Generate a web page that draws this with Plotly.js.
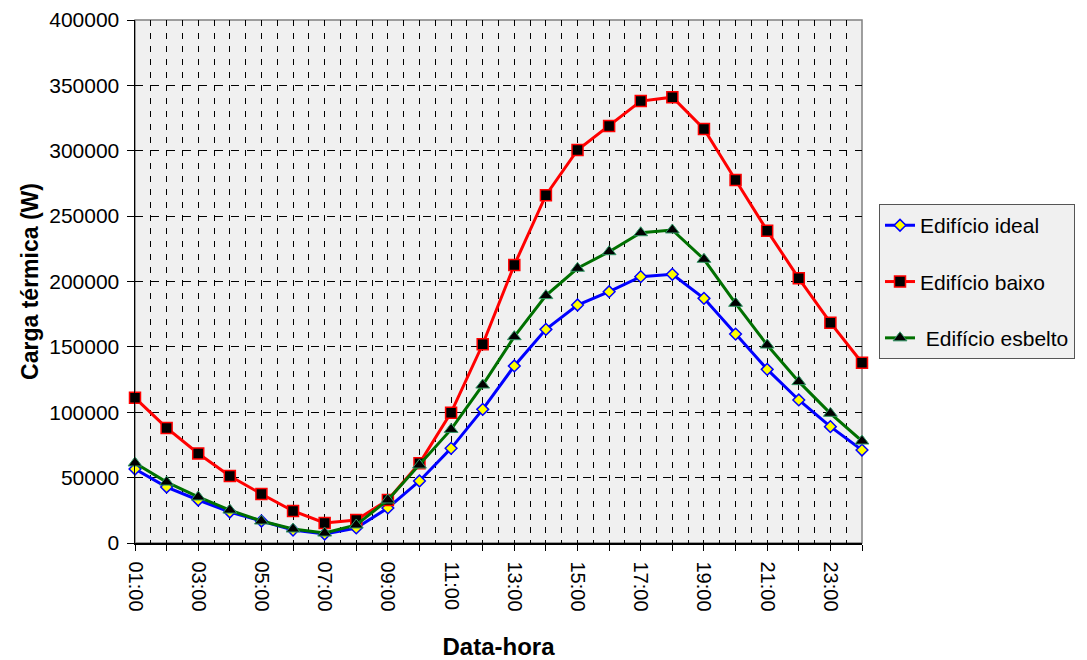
<!DOCTYPE html>
<html>
<head>
<meta charset="utf-8">
<script src="https://cdn.plot.ly/plotly-3.0.1.min.js"></script>
<style>html,body{margin:0;padding:0;background:#fff;}#chart{width:1087px;height:660px;}</style>
</head>
<body>
<div id="chart"></div>
<script>
const hours = [1,2,3,4,5,6,7,8,9,10,11,12,13,14,15,16,17,18,19,20,21,22,23,24];
const hourLabels = ['01:00','02:00','03:00','04:00','05:00','06:00','07:00','08:00','09:00','10:00','11:00','12:00',
                    '13:00','14:00','15:00','16:00','17:00','18:00','19:00','20:00','21:00','22:00','23:00','24:00'];
const shownLabels = ['01:00','03:00','05:00','07:00','09:00','11:00','13:00','15:00','17:00','19:00','21:00','23:00'];

const seriesNames = ['Edifício ideal', 'Edifício baixo', ' Edifício esbelto'];
const ideal   = [56600, 42800, 32900, 23700, 16800, 9900, 6900, 11500, 26800, 47400, 72400, 102200,
                 135400, 163400, 182000, 192200, 203700, 205500, 187100, 159800, 132800, 109400, 89000, 71100];
const baixo   = [111000, 88000, 68500, 51200, 37500, 24500, 15300, 17600, 32900, 61000, 99700, 152000,
                 212600, 266000, 300600, 319000, 338000, 341000, 316600, 277600, 238900, 202400, 168500, 137900];
const esbelto = [61200, 46600, 35200, 25200, 16800, 10700, 7600, 13800, 32900, 59600, 86900, 120800,
                 157800, 189200, 210100, 222800, 237300, 239400, 217000, 183300, 151400, 123400, 99200, 78000];

const tickText = hourLabels.map(l => shownLabels.includes(l) ? l : '');

const traces = [
  {x: hours, y: ideal, name: seriesNames[0], type: 'scatter', mode: 'lines+markers', legendgroup: 'a', cliponaxis: false,
   line: {color: '#0000ff', width: 3},
   marker: {symbol: 'diamond', size: 9, color: '#ffff00', line: {color: '#0000ff', width: 1.5}}},
  {x: hours, y: baixo, name: seriesNames[1], type: 'scatter', mode: 'lines+markers', legendgroup: 'b', cliponaxis: false,
   line: {color: '#ff0000', width: 3},
   marker: {symbol: 'square', size: 11, color: '#000000', line: {color: '#ff0000', width: 1.5}}},
  {x: hours, y: esbelto, name: seriesNames[2], type: 'scatter', mode: 'lines+markers', legendgroup: 'c', cliponaxis: false,
   line: {color: '#007000', width: 3},
   marker: {symbol: 'triangle-up', size: 12, color: '#000000', line: {color: '#339966', width: 1}}}
];

const layout = {
  width: 1087, height: 660,
  margin: {l: 135, r: 225, t: 20, b: 117},
  paper_bgcolor: '#ffffff',
  plot_bgcolor: '#f0f0f0',
  font: {family: 'Liberation Sans, Arial, sans-serif', color: '#000', size: 20},
  showlegend: true,
  legend: {
    x: 1.0234, xanchor: 'left', y: 0.648, yanchor: 'top',
    bgcolor: '#f0f0f0', bordercolor: '#555555', borderwidth: 1,
    font: {size: 21, color: '#000'},
    tracegroupgap: 26
  },
  xaxis: {
    type: 'linear', range: [1, 24], fixedrange: true,
    tickmode: 'array', tickvals: hours, ticktext: tickText, tickangle: 90,
    ticks: 'outside', ticklen: 6, tickcolor: '#000', tickwidth: 1,
    ticklabelstandoff: 7,
    showline: true, linecolor: '#000', linewidth: 1.5,
    showgrid: true, gridcolor: '#000', gridwidth: 1, griddash: '6px,7px',
    zeroline: false,
    minor: {tick0: 1.5, dtick: 1, showgrid: true, gridcolor: '#000', gridwidth: 1, griddash: '6px,7px', ticks: ''},
    tickfont: {size: 20},
    title: {text: 'Data-hora', font: {size: 24, weight: 'bold', family: 'Liberation Sans, Arial, sans-serif'}, standoff: 38}
  },
  yaxis: {
    range: [0, 400000], fixedrange: true,
    tickmode: 'linear', tick0: 0, dtick: 50000,
    ticks: 'outside', ticklen: 7, tickcolor: '#000', tickwidth: 1,
    ticklabelstandoff: 3,
    showline: true, linecolor: '#000', linewidth: 1.5,
    showgrid: true, gridcolor: '#000', gridwidth: 1, griddash: '8px,8px',
    zeroline: false,
    tickformat: 'd',
    tickfont: {size: 21},
    title: {text: 'Carga térmica (W)', font: {size: 23, weight: 'bold', family: 'Liberation Sans, Arial, sans-serif'}, standoff: 4}
  },
  shapes: [
    {type: 'rect', xref: 'paper', yref: 'paper', x0: 0, x1: 1, y0: 0, y1: 1,
     line: {color: '#808080', width: 1.5}, fillcolor: 'rgba(0,0,0,0)', layer: 'below'}
  ]
};

Plotly.newPlot('chart', traces, layout, {displayModeBar: false, staticPlot: true});
</script>
</body>
</html>
